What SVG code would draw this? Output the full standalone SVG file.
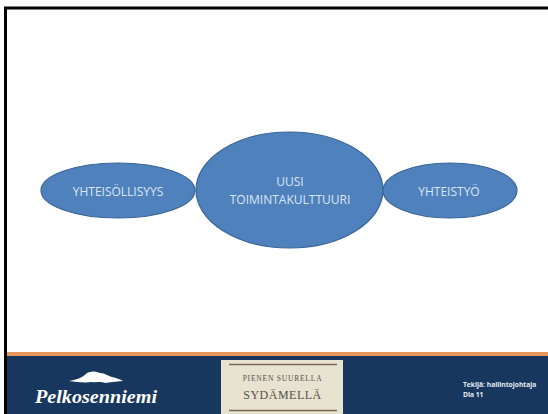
<svg xmlns="http://www.w3.org/2000/svg" width="548" height="414" viewBox="0 0 548 414">
<style>
.n{fill:#4f81bd;stroke:#3a6596;stroke-width:1.2}
.t{font-family:"Open Sans","Liberation Sans",sans-serif;font-size:12px;fill:#dbe6f2;text-anchor:middle}
.r{fill:none;stroke:#7a6a50;stroke-width:1.500}
.s{font-family:"Liberation Serif",serif;fill:#55504a;text-anchor:middle}
.f{font-family:"Open Sans","Liberation Sans",sans-serif;font-size:6.700px;font-weight:700;fill:#e8edf4}
</style>
<rect width="548" height="414" fill="#fff"/>
<rect x="5.500" y="8" width="560" height="420" fill="none" stroke="#000" stroke-width="3"/>
<rect x="7" y="353" width="541" height="61" fill="#17375e"/>
<rect x="7" y="352" width="541" height="4" fill="#e8975a"/>
<g id="node-yhteisollisyys"><ellipse class="n" cx="118" cy="190.500" rx="77" ry="27.500"/><text class="t" x="118" y="196">YHTEISÖLLISYYS</text></g>
<g id="node-uusi"><ellipse class="n" cx="289.500" cy="190" rx="93.500" ry="58"/><text class="t" x="290" y="186">UUSI</text><text class="t" x="290" y="203.500">TOIMINTAKULTTUURI</text></g>
<g id="node-yhteistyo"><ellipse class="n" cx="450" cy="190.500" rx="67" ry="27.500"/><text class="t" x="449" y="196">YHTEISTYÖ</text></g>
<g id="logo">
<path d="M69 381C76 380 82 378 87 373C92 371 96 371 100 373C105 373 108 376 112 377C116 378 120 379 123 381C115 382 110 382 105 383C100 381 96 383 92 382C85 383 76 382 69 381Z" fill="#fff"/>
<text x="35" y="403" font-family="'Liberation Serif',serif" font-style="italic" font-weight="700" font-size="19" fill="#fff" textLength="122" lengthAdjust="spacingAndGlyphs">Pelkosenniemi</text>
</g>
<g id="badge">
<rect x="221" y="360" width="122" height="54" fill="#e8e2d0"/>
<line class="r" x1="229" y1="364.500" x2="337" y2="364.500"/>
<line class="r" x1="229" y1="410.500" x2="337" y2="410.500"/>
<text class="s" x="282.500" y="381" font-size="7.500" letter-spacing=".8">PIENEN SUURELLA</text>
<text class="s" x="282.500" y="399" font-size="12" letter-spacing=".5">SYDÄMELLÄ</text>
</g>
<g id="footer"><text class="f" x="463" y="387">Tekijä: hallintojohtaja</text><text class="f" x="463" y="397">Dia 11</text></g>
</svg>
